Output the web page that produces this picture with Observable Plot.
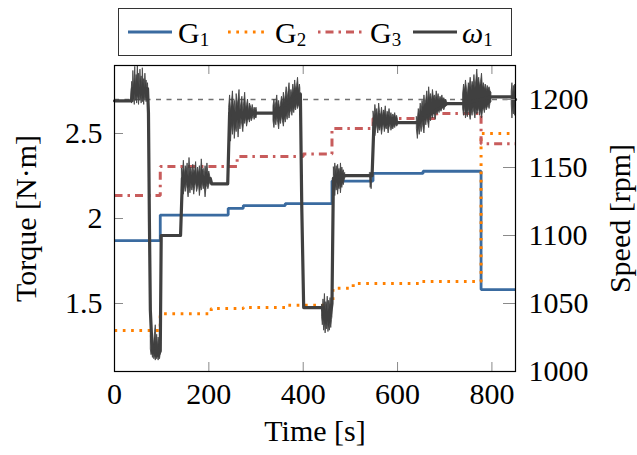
<!DOCTYPE html>
<html>
<head>
<meta charset="utf-8">
<script src="https://cdn.jsdelivr.net/npm/d3@7"></script>
<script src="https://cdn.jsdelivr.net/npm/@observablehq/plot@0.6"></script>
<style>
  html, body { margin: 0; padding: 0; background: white; }
  #wrap { width: 637px; height: 455px; position: relative; }
  #legend { display: block; }
  svg, svg text, svg tspan { font-family: "Liberation Serif", serif !important; }
</style>
</head>
<body>
<div id="wrap">
<svg id="legend" width="637" height="60" font-size="30">
  <rect x="118.5" y="8.5" width="393" height="47" fill="none" stroke="#333" stroke-width="1"/>
  <line x1="128" x2="172" y1="32" y2="32" stroke="#3a6ba0" stroke-width="2.8"/>
  <text x="178" y="43">G<tspan font-size="19" dy="3">1</tspan></text>
  <line x1="228" x2="268" y1="32" y2="32" stroke="#ff8000" stroke-width="3" stroke-dasharray="2.7,5.6"/>
  <text x="275" y="43">G<tspan font-size="19" dy="3">2</tspan></text>
  <line x1="318" x2="363" y1="32" y2="32" stroke="#c85c5c" stroke-width="3" stroke-dasharray="2.5,5,8,5"/>
  <text x="370" y="43">G<tspan font-size="19" dy="3">3</tspan></text>
  <line x1="413" x2="457" y1="32" y2="32" stroke="#404040" stroke-width="3.2"/>
  <text x="462" y="43"><tspan font-style="italic">ω</tspan><tspan font-size="19" dy="3">1</tspan></text>
</svg>
<div id="chart"></div>
</div>
<script>
// ---- axis ticks / labels ----
const timeTicks = [0, 200, 400, 600, 800];
const torqueTicks = [1.5, 2, 2.5];
const speedTicks = [1000, 1050, 1100, 1150, 1200];
const speedRef = 1200;

// ---- G1 (torque, N·m), step-after ----
const g1T = [0, 97, 241, 273, 362, 461, 548, 654, 777, 850];
const g1V = [1.87, 2.02, 2.06, 2.076, 2.088, 2.22, 2.265, 2.278, 1.582, 1.582];
// ---- G2 ----
const g2T = [0, 97, 205, 273, 366, 463, 506, 651, 777, 850];
const g2V = [1.341, 1.44, 1.47, 1.477, 1.49, 1.59, 1.618, 1.629, 2.5, 2.5];
// ---- G3 ----
const g3T = [0, 97, 260, 400, 461, 548, 683, 777, 850];
const g3V = [2.135, 2.306, 2.365, 2.38, 2.53, 2.588, 2.618, 2.44, 2.44];

// ---- omega1 (rpm), main trace ----
const omT = [0, 36, 38, 70, 72, 74, 76, 79, 83, 88, 93, 97, 99, 140, 144, 203, 206, 240, 244, 302, 337, 394, 397, 401, 440, 445, 458, 461, 464, 490, 546, 550, 601, 641, 705, 739, 800, 842, 850];
const omW = [1199, 1199, 1208, 1208, 1190, 1110, 1045, 1022, 1015, 1012, 1012, 1015, 1100, 1100, 1142, 1142, 1138, 1138, 1190, 1190, 1190, 1204, 1120, 1047, 1047, 1042, 1042, 1050, 1142, 1144, 1144, 1183, 1183, 1183, 1197, 1197, 1202, 1202, 1200];

// ---- omega1 oscillation envelopes (rpm) ----
const nA_t = [36,37.5,39,40,41.5,43,44,45.5,47,48,49.5,51,52,53.5,55,56,57.5,59,60,61.5,63,64,65.5,67,68,69.5,71,72];
const nA_hi = [1204,1213,1207,1221,1209,1216,1224,1210,1218,1212,1225,1211,1219,1208,1222,1213,1217,1209,1223,1211,1215,1208,1219,1210,1214,1207,1212,1205];
const nA_lo = [1199,1197,1203,1198,1201,1196,1204,1199,1202,1197,1203,1200,1196,1204,1199,1202,1197,1203,1198,1201,1196,1204,1199,1202,1198,1201,1199,1197];
const nB_t = [77,78.5,80,81.5,83,84.5,86,87.5,89,90.5,92,93.5,95,96.5,98];
const nB_hi = [1026,1031,1019,1025,1017,1023,1029,1034,1021,1027,1018,1025,1020,1024,1019];
const nB_lo = [1016,1012,1014,1010,1013,1009,1012,1008,1011,1009,1012,1008,1011,1009,1013];
const nC_t = [143,145,147,149,151,153,155,157,159,161,163,165,167,169,171,173,175,177,179,181,183,185,187,189,191,193,195,197,199,201,203];
const nC_hi = [1149,1145,1155,1144,1151,1147,1153,1143,1157,1146,1150,1144,1152,1146,1148,1154,1143,1150,1145,1151,1144,1156,1147,1149,1143,1151,1146,1153,1145,1147,1143];
const nC_lo = [1133,1138,1130,1137,1132,1139,1134,1128,1136,1131,1138,1133,1137,1130,1136,1139,1132,1135,1138,1129,1136,1133,1139,1134,1137,1128,1135,1138,1134,1137,1139];
const nD_t = [243,245,247,249,251,253,255,257,259,261,263,265,267,269,271,273,275,277,279,281,283,285,287,289,291,293,295,297,299,301,302];
const nD_hi = [1194,1203,1191,1198,1206,1193,1199,1189,1204,1195,1200,1207,1192,1197,1202,1190,1198,1205,1193,1196,1200,1191,1197,1195,1192,1196,1191,1194,1192,1194,1192];
const nD_lo = [1163,1178,1169,1182,1174,1184,1171,1180,1176,1185,1172,1183,1178,1186,1181,1176,1185,1182,1187,1180,1184,1186,1183,1187,1184,1186,1188,1185,1187,1186,1188];
const nE_t = [337,339,341,343,345,347,349,351,353,355,357,359,361,363,365,367,369,371,373,375,377,379,381,383,385,387,389,391,393,394];
const nE_hi = [1195,1200,1193,1198,1203,1194,1199,1192,1197,1202,1196,1205,1198,1203,1209,1200,1206,1212,1201,1207,1203,1211,1205,1214,1207,1210,1216,1206,1211,1208];
const nE_lo = [1184,1179,1186,1181,1187,1183,1178,1186,1182,1188,1184,1180,1187,1183,1189,1185,1191,1186,1190,1193,1188,1194,1190,1195,1192,1197,1193,1196,1194,1196];
const nF_t = [440,441.5,443,444.5,446,447.5,449,450.5,452,453.5,455,456.5,458,459.5,461,462];
const nF_hi = [1049,1044,1053,1046,1057,1045,1051,1048,1055,1044,1052,1047,1054,1045,1050,1046];
const nF_lo = [1040,1034,1038,1030,1036,1028,1035,1031,1037,1029,1034,1030,1036,1032,1038,1040];
const nG_t = [465,466.5,468,469.5,471,472.5,474,475.5,477,478.5,480,481.5,483,484.5,486,487.5,489];
const nG_hi = [1150,1144,1153,1146,1151,1145,1152,1147,1149,1145,1153,1146,1150,1146,1148,1145,1146];
const nG_lo = [1132,1138,1129,1137,1133,1139,1130,1136,1134,1138,1131,1137,1135,1139,1137,1140,1142];
const nH_t = [542,543,544,545,546];
const nH_hi = [1146,1146,1146,1146,1146];
const nH_lo = [1141,1135,1139,1134,1140];
const nI_t = [549,551,553,555,557,559,561,563,565,567,569,571,573,575,577,579,581,583,585,587,589,591,593,595,597,599,601];
const nI_hi = [1191,1187,1196,1189,1193,1186,1197,1190,1188,1194,1187,1192,1189,1195,1186,1191,1188,1193,1187,1190,1186,1189,1187,1190,1186,1188,1185];
const nI_lo = [1175,1180,1173,1178,1182,1175,1180,1177,1181,1174,1179,1182,1176,1180,1178,1181,1175,1179,1182,1177,1180,1178,1181,1179,1182,1180,1181];
const nJ_t = [641,643,645,647,649,651,653,655,657,659,661,663,665,667,669,671,673,675,677,679,681,683,685,687,689,691,693,695,697,699,701,703,705];
const nJ_hi = [1187,1185,1193,1188,1197,1191,1199,1194,1203,1196,1200,1206,1197,1209,1200,1204,1198,1207,1201,1203,1199,1206,1200,1204,1199,1202,1200,1203,1199,1201,1199,1200,1198];
const nJ_lo = [1178,1171,1180,1174,1182,1176,1184,1179,1175,1185,1181,1187,1183,1179,1188,1184,1190,1186,1191,1188,1185,1192,1189,1193,1190,1194,1191,1193,1195,1192,1194,1195,1196];
const nK_t = [739,741,743,745,747,749,751,753,755,757,759,761,763,765,767,769,771,773,775,777,779,781,783,785,787,789,791,793,795,797,799];
const nK_hi = [1204,1211,1206,1214,1208,1203,1212,1209,1216,1207,1213,1210,1218,1208,1214,1222,1211,1216,1209,1213,1219,1208,1212,1207,1211,1206,1210,1207,1209,1206,1205];
const nK_lo = [1193,1188,1195,1186,1191,1187,1194,1189,1185,1192,1188,1194,1190,1186,1193,1189,1191,1194,1188,1192,1186,1191,1194,1190,1195,1192,1194,1196,1193,1197,1198];
const nL_t = [842,843.5,845,846.5,848,849.5,850];
const nL_hi = [1206,1212,1203,1210,1205,1211,1206];
const nL_lo = [1196,1186,1194,1189,1195,1188,1194];

// ---- dual-axis mapping: speed axis [1000,1225] rpm onto torque axis [1.1,2.9] ----
const tqMin = 1.1, tqMax = 2.9, spMin = 1000, spMax = 1225;
const toT = w => tqMin + (w - spMin) * (tqMax - tqMin) / (spMax - spMin);
const toW = t => spMin + (t - tqMin) * (spMax - spMin) / (tqMax - tqMin);

const series = (T, V) => T.map((t, i) => ({t, v: V[i]}));
const g1 = series(g1T, g1V), g2 = series(g2T, g2V), g3 = series(g3T, g3V);
const om = omT.map((t, i) => ({t, v: toT(omW[i])}));
const bands = [
  ["A", nA_t, nA_lo, nA_hi], ["B", nB_t, nB_lo, nB_hi], ["C", nC_t, nC_lo, nC_hi],
  ["D", nD_t, nD_lo, nD_hi], ["E", nE_t, nE_lo, nE_hi], ["F", nF_t, nF_lo, nF_hi],
  ["G", nG_t, nG_lo, nG_hi], ["H", nH_t, nH_lo, nH_hi], ["I", nI_t, nI_lo, nI_hi],
  ["J", nJ_t, nJ_lo, nJ_hi], ["K", nK_t, nK_lo, nK_hi], ["L", nL_t, nL_lo, nL_hi]
].flatMap(([s, T, L, H]) => T.map((t, i) => ({s, t, lo: toT(L[i]), hi: toT(H[i])})));

const W = 637, H = 395;
const mL = 114, mR = 122, mT = 5, mB = 84;
const fw = W - mL - mR, fh = H - mT - mB;
const tick = 9;
const FONT = "Liberation Serif, serif";
const FS = 30;
const tickColor = "#8a8a8a";

const chart = Plot.plot({
  width: W, height: H,
  marginLeft: mL, marginRight: mR, marginTop: mT, marginBottom: mB,
  style: {fontFamily: FONT, fontSize: FS + "px", background: "white", color: "black"},
  x: {domain: [0, 850]},
  y: {domain: [tqMin, tqMax]},
  marks: [
    Plot.ruleY([toT(speedRef)], {stroke: "#707070", strokeWidth: 1.6, strokeDasharray: "5,5.5"}),
    Plot.line(g1, {x: "t", y: "v", curve: "step-after", stroke: "#3a6ba0", strokeWidth: 2.8, strokeLinecap: "butt", strokeLinejoin: "miter"}),
    Plot.line(g2, {x: "t", y: "v", curve: "step-after", stroke: "#ff8000", strokeWidth: 3, strokeDasharray: "2.7,5.6", strokeLinecap: "butt", strokeLinejoin: "miter"}),
    Plot.line(g3, {x: "t", y: "v", curve: "step-after", stroke: "#c85c5c", strokeWidth: 3, strokeDasharray: "8,5,2.5,5", strokeLinecap: "butt", strokeLinejoin: "miter"}),
    Plot.areaY(bands, {x: "t", y1: "lo", y2: "hi", z: "s", fill: "#404040", stroke: "#404040", strokeWidth: 0.8}),
    Plot.line(om, {x: "t", y: "v", stroke: "#404040", strokeWidth: 3.2}),
    // inward tick marks
    Plot.tickX(timeTicks.filter(d => d > 0), {x: d => d, insetTop: fh - tick, stroke: tickColor, strokeWidth: 1}),
    Plot.tickX(timeTicks.filter(d => d > 0), {x: d => d, insetBottom: fh - tick, stroke: tickColor, strokeWidth: 1}),
    Plot.tickY(torqueTicks, {y: d => d, insetRight: fw - tick, stroke: tickColor, strokeWidth: 1}),
    Plot.tickY(speedTicks.map(toT), {y: d => d, insetLeft: fw - tick - 3, stroke: tickColor, strokeWidth: 1}),
    Plot.frame({stroke: "black", strokeWidth: 1.2}),
    Plot.axisX({ticks: timeTicks, tickSize: 0, tickPadding: 11, label: null, fontSize: FS, fontFamily: FONT}),
    Plot.axisY({anchor: "left", ticks: torqueTicks, tickSize: 0, tickPadding: 12, label: null, tickFormat: d => String(d), fontSize: FS, fontFamily: FONT}),
    Plot.axisY({anchor: "right", ticks: speedTicks.map(toT), tickSize: 0, tickPadding: 13, label: null, tickFormat: d => String(Math.round(toW(d))), fontSize: FS, fontFamily: FONT}),
    Plot.text(["Time [s]"], {frameAnchor: "bottom", dy: 69, text: d => d, textAnchor: "middle", fontSize: FS, fontFamily: FONT}),
    Plot.text(["Torque [N·m]"], {frameAnchor: "left", dx: -88, rotate: -90, textAnchor: "middle", text: d => d, fontSize: FS, fontFamily: FONT}),
    Plot.text(["Speed [rpm]"], {frameAnchor: "right", dx: 105, rotate: -90, textAnchor: "middle", text: d => d, fontSize: FS, fontFamily: FONT})
  ]
});
document.getElementById("chart").appendChild(chart);
</script>
</body>
</html>
